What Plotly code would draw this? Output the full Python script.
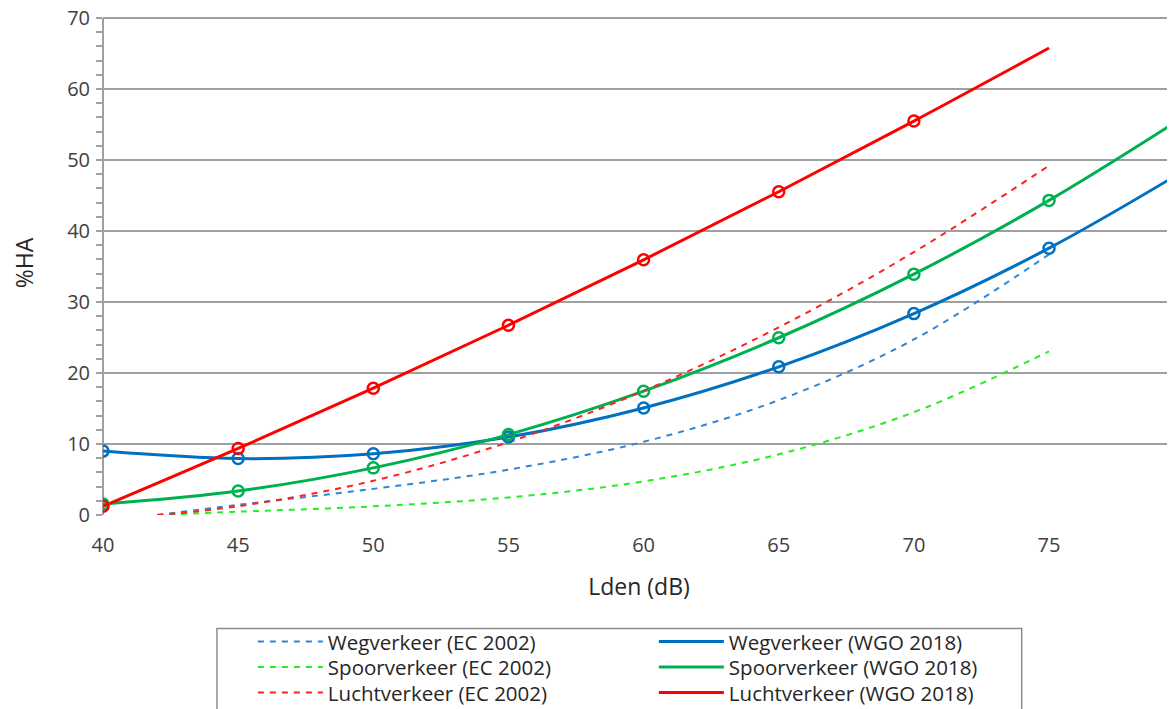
import plotly.graph_objects as go

# Lden values (dB)
x_wgo = [40, 45, 50, 55, 60, 65, 70, 75, 80]
x_ec = [42, 45, 50, 55, 60, 65, 70, 75]
x_marker = [40, 45, 50, 55, 60, 65, 70, 75]
x_marker_lucht = [40, 45, 50, 55, 60, 65, 70]

# WGO 2018 (solid)
weg_wgo = [9.0, 7.95, 8.62, 10.99, 15.08, 20.87, 28.37, 37.59, 48.51]
spoor_wgo = [1.54, 3.38, 6.64, 11.33, 17.44, 24.97, 33.93, 44.32, 56.13]
lucht_wgo_x = [40, 45, 50, 55, 60, 65, 70, 75]
lucht_wgo = [1.22, 9.37, 17.87, 26.73, 35.95, 45.54, 55.49, 65.79]

# EC 2002 (dashed)
weg_ec = [0.0, 1.43, 3.68, 6.39, 10.31, 16.18, 24.73, 36.71]
spoor_ec = [0.0, 0.46, 1.22, 2.47, 4.73, 8.55, 14.48, 23.05]
lucht_ec = [0.0, 1.23, 4.82, 10.26, 17.49, 26.44, 37.04, 49.21]

y_ticks = [0, 10, 20, 30, 40, 50, 60, 70]
x_ticks = [40, 45, 50, 55, 60, 65, 70, 75]
y_max = 70

FONT = "Open Sans"
TXT = "#262626"
GRID = "#A0A0A0"

BLUE_EC, BLUE = "#2E86D6", "#0070C0"
GREEN_EC, GREEN = "#22EE22", "#00B050"
RED_EC, RED = "#FF2020", "#FF0000"

fig = go.Figure()

# legend / line traces (one legend per row)
fig.add_trace(go.Scatter(x=x_ec, y=weg_ec, mode="lines", name="Wegverkeer (EC 2002)", legend="legend",
                         line=dict(color=BLUE_EC, width=2, dash="6px,6px", shape="spline")))
fig.add_trace(go.Scatter(x=x_wgo, y=weg_wgo, mode="lines", name="Wegverkeer (WGO 2018)", legend="legend",
                         line=dict(color=BLUE, width=3, shape="spline")))
fig.add_trace(go.Scatter(x=x_ec, y=spoor_ec, mode="lines", name="Spoorverkeer (EC 2002)", legend="legend2",
                         line=dict(color=GREEN_EC, width=2, dash="6px,6px", shape="spline")))
fig.add_trace(go.Scatter(x=x_wgo, y=spoor_wgo, mode="lines", name="Spoorverkeer (WGO 2018)", legend="legend2",
                         line=dict(color=GREEN, width=3, shape="spline")))
fig.add_trace(go.Scatter(x=x_ec, y=lucht_ec, mode="lines", name="Luchtverkeer (EC 2002)", legend="legend3",
                         line=dict(color=RED_EC, width=2, dash="6px,6px", shape="spline")))
fig.add_trace(go.Scatter(x=lucht_wgo_x, y=lucht_wgo, mode="lines", name="Luchtverkeer (WGO 2018)", legend="legend3",
                         line=dict(color=RED, width=3, shape="spline")))

# open circle markers (no legend entries)
for xs, ys, col in [(x_marker, weg_wgo[:len(x_marker)], BLUE),
                    (x_marker, spoor_wgo[:len(x_marker)], GREEN),
                    (x_marker_lucht, lucht_wgo[:len(x_marker_lucht)], RED)]:
    fig.add_trace(go.Scatter(x=xs, y=ys, mode="markers", showlegend=False,
                             marker=dict(symbol="circle-open", size=11, color=col,
                                         line=dict(width=2.5))))

# y axis line (from 0 to the top gridline) and top gridline
fig.add_shape(type="line", xref="paper", yref="y", x0=0, x1=0, y0=0, y1=y_max,
              line=dict(color=GRID, width=2), layer="below")
fig.add_shape(type="line", xref="paper", yref="y", x0=0, x1=1, y0=y_max, y1=y_max,
              line=dict(color=GRID, width=2), layer="below")

# legend frame
fig.add_shape(type="rect", xref="paper", yref="paper", x0=0.1063, x1=0.857, y0=-0.5, y1=-0.2254,
              line=dict(color="#8C8C8C", width=1.5), fillcolor="white", layer="below")


def row_legend(ytop):
    return dict(orientation="h", x=0.1398, xanchor="left", y=ytop, yanchor="top",
                entrywidth=321, entrywidthmode="pixels", itemwidth=65,
                borderwidth=0, bgcolor="rgba(0,0,0,0)",
                font=dict(family=FONT, size=20.5, color=TXT), itemclick=False)


# plot area: 7.1 px per %HA unit, range to 71 so the 70 gridline sits inside
fig.update_layout(
    width=1167, height=701,
    margin=dict(l=95, r=0, t=3, b=194, autoexpand=False),
    paper_bgcolor="white", plot_bgcolor="white",
    font=dict(family=FONT, size=20, color=TXT),
    showlegend=True,
    legend=row_legend(-0.2117),
    legend2=row_legend(-0.2623),
    legend3=row_legend(-0.3129),
    xaxis=dict(range=[40, 79.66], tickmode="array", tickvals=x_ticks,
               showgrid=False, zeroline=False, showline=False, ticks="",
               ticklabelstandoff=16, ticklabeloverflow="allow",
               tickfont=dict(size=20, color="#404040"),
               title=dict(text="Lden (dB)", font=dict(size=23, color=TXT), standoff=21)),
    yaxis=dict(range=[0, 71], tickmode="array", tickvals=y_ticks,
               showgrid=True, gridcolor=GRID, gridwidth=2, zeroline=False,
               showline=False, ticklabeloverflow="allow",
               ticks="", ticklabelstandoff=12, tickfont=dict(size=20, color="#404040"),
               minor=dict(tickmode="array", tickvals=list(range(0, 71, 2)), ticks="outside",
                          ticklen=6, tickcolor=GRID, tickwidth=2, showgrid=False),
               title=dict(text="%HA", font=dict(size=23, color=TXT), standoff=38)),
)

fig.write_html("out.html")
